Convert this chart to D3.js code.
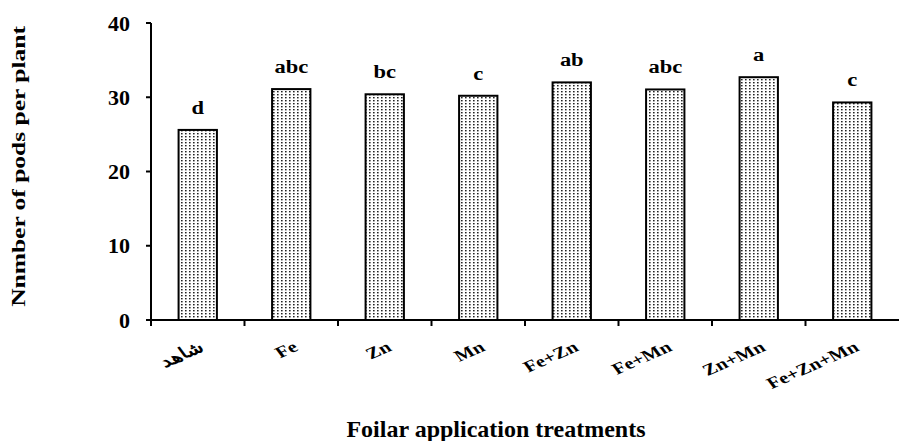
<!DOCTYPE html>
<html><head><meta charset="utf-8">
<script src="https://cdn.jsdelivr.net/npm/d3@7"></script>
<style>body{margin:0;background:#fff}svg{display:block}text{font-family:"Liberation Serif","Times New Roman",serif;font-weight:bold;fill:#000}</style>
</head><body>
<script>
const categories = ["شاهد","Fe","Zn","Mn","Fe+Zn","Fe+Mn","Zn+Mn","Fe+Zn+Mn"];
const values = [25.6, 31.1, 30.4, 30.2, 32.0, 31.05, 32.7, 29.3];
const letters = ["d","abc","bc","c","ab","abc","a","c"];
const yTicks = [0,10,20,30,40];
const yTitle = "Nnmber of pods per plant";
const xTitle = "Foilar application treatments";

const W = 899, H = 441;
const svg = d3.select("body").append("svg").attr("width", W).attr("height", H);
const defs = svg.append("defs");
const pat = defs.append("pattern").attr("id","dots").attr("patternUnits","userSpaceOnUse")
  .attr("width",4).attr("height",3);
pat.append("rect").attr("width",4).attr("height",3).attr("fill","#fff");
pat.append("rect").attr("x",1).attr("y",1).attr("width",1.6).attr("height",1.4).attr("fill","#222");

const x = d3.scaleBand().domain(categories).range([151, 899]).padding(0);
const y = d3.scaleLinear().domain([0, 40]).range([320, 23]);
const barW = x.bandwidth() * 0.41;

svg.selectAll("rect.bar").data(categories).enter().append("rect")
  .attr("class","bar")
  .attr("x", d => x(d) + x.bandwidth()/2 - barW/2)
  .attr("y", (d,i) => y(values[i]))
  .attr("width", barW)
  .attr("height", (d,i) => y(0) - y(values[i]))
  .attr("fill","url(#dots)").attr("stroke","#000").attr("stroke-width",2);

// letters
svg.selectAll("text.lt").data(categories).enter().append("text")
  .attr("class","lt")
  .attr("transform",(d,i)=>`matrix(1.25,0,0,1,${x(d)+x.bandwidth()/2},${y(values[i])-16})`)
  .attr("text-anchor","middle").attr("font-size",18)
  .text((d,i)=>letters[i]);

// y axis
const yAxis = svg.append("g");
yAxis.append("line").attr("x1",151).attr("x2",151).attr("y1",y(40)).attr("y2",y(0)+6)
  .attr("stroke","#000").attr("stroke-width",2);
yAxis.selectAll("line.t").data(yTicks).enter().append("line").attr("class","t")
  .attr("x1",146).attr("x2",151).attr("y1",d=>y(d)).attr("y2",d=>y(d))
  .attr("stroke","#000").attr("stroke-width",2);
yAxis.selectAll("text").data(yTicks).enter().append("text")
  .attr("transform",d=>`matrix(1.1,0,0,1,130,${y(d)+7.5})`)
  .attr("text-anchor","end").attr("font-size",20).text(d=>d);

// x axis
const xAxis = svg.append("g");
xAxis.append("line").attr("x1",151).attr("x2",899).attr("y1",y(0)).attr("y2",y(0))
  .attr("stroke","#000").attr("stroke-width",2);
const bounds = categories.map(c => x(c));
xAxis.selectAll("line.t").data(bounds).enter().append("line").attr("class","t")
  .attr("x1",d=>d).attr("x2",d=>d).attr("y1",y(0)).attr("y2",y(0)+6)
  .attr("stroke","#000").attr("stroke-width",2);
// rotated tick labels laid along a -30° path
const ang = 30 * Math.PI/180, len = 200;
const lp = `M${(-len*Math.cos(ang)).toFixed(2)},${(len*Math.sin(ang)).toFixed(2)}L0,0`;
defs.append("path").attr("id","labpath").attr("d", lp);
const lab = xAxis.selectAll("g.lab").data(categories).enter().append("g").attr("class","lab")
  .attr("transform",d=>`translate(${x(d)+x.bandwidth()/2+8},${y(0)+30}) scale(1.3,1)`);
lab.append("text").attr("font-size",16).attr("text-anchor","end")
  .append("textPath").attr("href","#labpath").attr("startOffset","100%").text(d=>d);

// titles
svg.append("text").attr("transform",`translate(496,437)`)
  .attr("text-anchor","middle").attr("font-size",24).text(xTitle);
svg.append("text").attr("transform",`matrix(0,-1,0.75,0,25,166.5)`)
  .attr("text-anchor","middle").attr("font-size",25.5).text(yTitle);
</script>
</body></html>
